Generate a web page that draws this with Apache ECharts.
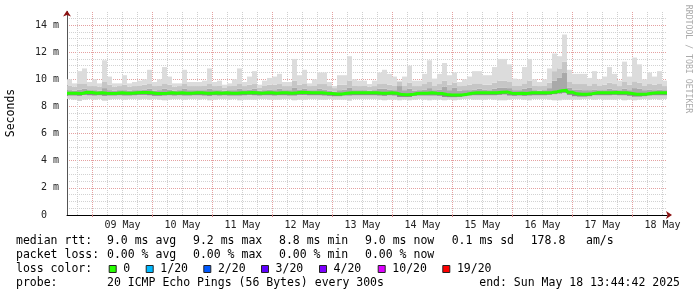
<!DOCTYPE html>
<html><head><meta charset="utf-8">
<script src="https://cdn.jsdelivr.net/npm/echarts@6/dist/echarts.min.js"></script>
<style>html,body{margin:0;padding:0;background:#fff}#c{width:697px;height:297px}</style>
</head><body><div id="c"></div>
<script>
// ---- time frame (hours since 08 May 00:00) ----
const startHour = 13.8;          // 08 May ~13:44
const endHour = 253.8;           // 18 May ~13:44
const bucketHours = 2;

// ---- axis tick labels ----
const dayLabels = ['09 May','10 May','11 May','12 May','13 May','14 May','15 May','16 May','17 May','18 May'];
const dayLabelHours = [36,60,84,108,132,156,180,204,228,252];
const midnightHours = [24,48,72,96,120,144,168,192,216,240];
const sixHourHours = [18,30,36,42,54,60,66,78,84,90,102,108,114,126,132,138,150,156,162,174,180,186,198,204,210,222,228,234,246,252];
const yMajorTicks = [0,2,4,6,8,10,12,14];

// ---- smoke data (ms), one value per 2-hour bucket ----
const pingMax = [10.0,9.7,10.6,10.8,9.8,10.0,9.7,11.4,10.2,9.7,
 9.7,10.3,9.7,9.8,9.9,10.0,10.7,9.8,10.0,10.9,
 10.2,9.7,9.7,10.7,9.8,9.8,9.8,9.9,10.8,9.8,
 9.9,9.6,9.7,10.0,10.8,9.8,10.2,10.6,9.6,9.9,
 10.1,10.2,10.4,9.8,9.8,11.5,10.3,10.7,9.7,10.0,
 10.5,10.5,9.8,9.5,10.3,10.3,11.7,10.0,9.9,9.9,
 9.65,9.9,10.5,10.7,10.4,10.2,9.9,10.2,11.0,9.9,
 9.9,10.4,11.4,10.05,10.4,11.2,10.3,10.5,9.8,10.0,
 10.2,10.6,10.6,10.3,10.3,10.9,11.5,11.5,11.1,10.05,
 10.0,10.9,11.5,10.0,9.8,10.0,10.8,11.9,11.7,13.3,
 10.7,10.4,10.4,10.4,10.1,10.6,10.0,10.2,10.9,10.4,
 9.9,11.3,10.2,11.6,11.1,10.0,10.5,10.2,10.6,9.9];
const pingP90 = [9.55,9.45,9.7,9.7,9.5,9.5,9.45,9.8,9.6,9.45,
 9.5,9.6,9.45,9.5,9.55,9.6,9.7,9.5,9.55,9.7,
 9.6,9.45,9.5,9.7,9.5,9.5,9.5,9.55,9.7,9.5,
 9.55,9.4,9.5,9.55,9.7,9.5,9.6,9.65,9.4,9.55,
 9.6,9.6,9.65,9.5,9.5,9.9,9.6,9.7,9.5,9.55,
 9.65,9.65,9.5,9.35,9.6,9.6,9.9,9.55,9.5,9.55,
 9.45,9.5,9.65,9.7,9.6,9.55,9.8,9.55,9.75,9.5,
 9.5,9.65,9.8,9.55,9.65,9.9,9.6,9.75,9.5,9.55,
 9.6,9.7,9.7,9.6,9.6,9.75,9.9,9.9,9.8,9.55,
 9.55,9.7,9.9,9.55,9.5,9.55,9.75,10.6,10.8,11.3,
 9.8,9.65,9.65,9.65,9.55,9.7,9.55,9.6,9.75,9.65,
 9.5,9.8,9.6,9.85,9.75,9.55,9.65,9.6,9.7,9.5];
const pingP75 = [9.2,9.15,9.25,9.3,9.2,9.2,9.15,9.35,9.2,9.15,
 9.2,9.2,9.15,9.2,9.2,9.25,9.3,9.15,9.2,9.3,
 9.25,9.15,9.2,9.3,9.2,9.2,9.2,9.2,9.3,9.2,
 9.2,9.15,9.2,9.2,9.3,9.2,9.25,9.3,9.15,9.2,
 9.25,9.2,9.3,9.2,9.2,9.4,9.25,9.3,9.2,9.2,
 9.3,9.25,9.15,9.1,9.2,9.25,9.4,9.2,9.2,9.2,
 9.15,9.2,9.3,9.3,9.25,9.2,9.5,9.2,9.3,9.15,
 9.2,9.25,9.35,9.2,9.25,9.45,9.2,9.4,9.15,9.2,
 9.2,9.25,9.3,9.25,9.2,9.3,9.4,9.4,9.35,9.2,
 9.2,9.3,9.4,9.2,9.15,9.2,9.35,9.9,10.1,10.5,
 9.4,9.25,9.25,9.2,9.2,9.25,9.2,9.2,9.3,9.25,
 9.2,9.3,9.2,9.35,9.3,9.2,9.25,9.2,9.25,9.2];
const pingMedian = [8.97,8.97,8.95,9.05,9.03,8.97,9.0,8.97,8.95,8.97,
 9.0,8.97,8.97,9.0,9.03,9.03,9.0,8.95,8.95,8.97,
 9.0,8.97,9.0,8.97,8.97,9.0,9.0,8.97,8.97,9.0,
 8.97,9.0,8.97,8.97,9.0,9.0,9.03,9.0,8.97,9.0,
 9.0,8.97,9.0,9.0,8.97,9.0,9.05,9.03,9.0,9.0,
 9.0,8.97,8.95,8.92,8.92,8.97,9.0,9.0,9.0,9.0,
 9.0,9.0,8.97,8.97,9.0,8.97,8.87,8.86,8.87,8.95,
 8.97,8.97,9.0,8.97,8.95,8.88,8.85,8.84,8.85,8.9,
 8.97,9.0,9.0,9.0,9.0,9.0,9.05,9.07,8.97,8.95,
 8.97,8.95,9.0,9.0,9.0,9.0,9.03,9.08,9.15,9.2,
 9.05,8.93,8.9,8.9,8.93,9.0,9.0,9.0,9.0,9.03,
 9.0,9.0,8.95,8.9,8.9,8.92,8.97,9.0,9.0,9.0];
const pingP25 = [8.8,8.8,8.78,8.85,8.82,8.8,8.82,8.78,8.8,8.8,
 8.82,8.8,8.8,8.82,8.85,8.85,8.82,8.78,8.78,8.8,
 8.82,8.8,8.82,8.8,8.8,8.82,8.82,8.8,8.78,8.82,
 8.8,8.82,8.8,8.8,8.8,8.82,8.85,8.82,8.8,8.82,
 8.82,8.8,8.82,8.82,8.8,8.8,8.85,8.85,8.82,8.82,
 8.82,8.8,8.78,8.75,8.75,8.8,8.8,8.82,8.82,8.82,
 8.82,8.82,8.8,8.78,8.82,8.8,8.7,8.7,8.7,8.78,
 8.8,8.8,8.8,8.8,8.78,8.7,8.68,8.68,8.7,8.75,
 8.8,8.82,8.82,8.82,8.82,8.82,8.85,8.88,8.8,8.78,
 8.8,8.78,8.8,8.82,8.82,8.82,8.85,8.9,8.95,9.0,
 8.85,8.75,8.72,8.72,8.75,8.82,8.82,8.82,8.82,8.85,
 8.82,8.82,8.78,8.72,8.72,8.75,8.8,8.82,8.82,8.82];
const pingMin = [8.55,8.5,8.4,8.5,8.55,8.5,8.55,8.42,8.5,8.55,
 8.55,8.5,8.55,8.55,8.5,8.55,8.5,8.55,8.5,8.45,
 8.5,8.55,8.55,8.5,8.55,8.55,8.5,8.55,8.45,8.5,
 8.55,8.55,8.5,8.55,8.45,8.5,8.5,8.5,8.55,8.55,
 8.5,8.5,8.5,8.55,8.55,8.45,8.5,8.5,8.55,8.55,
 8.5,8.5,8.55,8.5,8.5,8.5,8.42,8.55,8.55,8.55,
 8.55,8.55,8.5,8.45,8.5,8.5,8.45,8.5,8.45,8.5,
 8.55,8.5,8.45,8.5,8.5,8.45,8.5,8.45,8.5,8.55,
 8.55,8.5,8.5,8.5,8.55,8.5,8.45,8.45,8.5,8.55,
 8.55,8.5,8.45,8.55,8.55,8.55,8.5,8.45,8.45,8.5,
 8.5,8.5,8.5,8.55,8.55,8.5,8.55,8.5,8.5,8.5,
 8.55,8.45,8.5,8.45,8.5,8.55,8.5,8.55,8.5,8.55];

// ---- legend texts ----
const statRow1 = ['median rtt:','9.0 ms avg','9.2 ms max','8.8 ms min','9.0 ms now','0.1 ms sd','178.8','am/s'];
const statRow2 = ['packet loss:','0.00 % avg','0.00 % max','0.00 % min','0.00 % now'];
const lossTitle = 'loss color:';
const lossLabels = ['0','1/20','2/20','3/20','4/20','10/20','19/20'];
const lossColors = ['#26ff00','#00b8ff','#0059ff','#5e00ff','#7e00ff','#dd00ff','#ff0000'];
const probeRow = ['probe:','20 ICMP Echo Pings (56 Bytes) every 300s'];
const endText = 'end: Sun May 18 13:44:42 2025';
const yTitle = 'Seconds';
const watermark = 'RRDTOOL / TOBI OETIKER';

// ---- build ----
const MONO = 'DejaVu Sans Mono';
const smokeColors = ['#d4d4d4','#8a8a8a','#a9a9a9','#c6c6c6','#dcdcdc'];
const smokeData = pingMax.map((hi,i)=>[startHour+bucketHours*i, startHour+bucketHours*(i+1),
  pingMin[i], pingP25[i], pingMedian[i], pingP75[i], pingP90[i], hi]);
const medianPts = pingMedian.map((v,i)=>[startHour+bucketHours*i, v]);
medianPts.push([endHour, pingMedian[pingMedian.length-1]]);

const vGrid = [];
sixHourHours.forEach(h=>vGrid.push({xAxis:h, lineStyle:{color:'#cfcfcf', type:[1,1], width:1}}));
midnightHours.forEach(h=>vGrid.push({xAxis:h, lineStyle:{color:'#e4a0a0', type:[1,1], width:1}}));

const graphics = [];
const txt = (x,y,t,extra)=>graphics.push(Object.assign({type:'text', x:x, y:y,
  style:{text:t, font:'11.5px "'+MONO+'"', fill:'#000', verticalAlign:'middle', align:'left'}, silent:true}, extra||{}));
const row1X = [16,107,193,279,365,451.7,530.7,586];
statRow1.forEach((t,i)=>txt(row1X[i],241.5,t));
statRow2.forEach((t,i)=>txt(row1X[i],255.5,t));
txt(16,269.5,lossTitle);
const boxX = [108.7,145.7,203.3,261,319,377.7,442.3];
lossLabels.forEach((t,i)=>{
  graphics.push({type:'rect', shape:{x:boxX[i]+0.5, y:265.5, width:7, height:7},
    style:{fill:lossColors[i], stroke:'#222', lineWidth:1}, silent:true});
  txt(boxX[i]+14.6, 269.5, t);
});
txt(16,283,probeRow[0]);
txt(107,283,probeRow[1]);
txt(680,283,endText,{style:{text:endText, font:'11.5px "'+MONO+'"', fill:'#000', verticalAlign:'middle', align:'right'}});
graphics.push({type:'text', x:11, y:113, rotation:Math.PI/2, silent:true,
  style:{text:yTitle, font:'11.5px "'+MONO+'"', fill:'#000', align:'center', verticalAlign:'middle'}});
graphics.push({type:'text', x:688, y:59, rotation:-Math.PI/2, silent:true,
  style:{text:watermark, font:'8.2px "'+MONO+'"', fill:'#aaaaaa', align:'center', verticalAlign:'middle'}});

const chart = echarts.init(document.getElementById('c'), null, {renderer:'canvas'});
chart.setOption({
  animation:false,
  backgroundColor:'#ffffff',
  grid:{left:67, right:30, top:11.43, bottom:82, outerBoundsMode:'none'},
  xAxis:[{
    type:'value', min:startHour, max:endHour,
    axisLine:{show:true, onZero:false, lineStyle:{color:'#000', width:1}},
    axisTick:{show:true, customValues:midnightHours, length:2, lineStyle:{color:'#d08080'}},
    axisLabel:{customValues:dayLabelHours, margin:5, fontFamily:MONO, fontSize:10, color:'#222',
      formatter:v=>{const k=dayLabelHours.indexOf(Math.round(v)); return k>=0?dayLabels[k]:'';}},
    splitLine:{show:false}
  },{
    type:'value', min:startHour, max:endHour, position:'bottom',
    axisLine:{show:true, onZero:false, symbol:['none','arrow'], symbolSize:[6,6], symbolOffset:[0,5],
      lineStyle:{color:'#8b1010', width:0}},
    axisTick:{show:false}, axisLabel:{show:false}, splitLine:{show:false}
  }],
  yAxis:[{
    type:'value', min:0, max:15, interval:0.5,
    axisLine:{show:true, lineStyle:{color:'#555', width:1}},
    axisTick:{show:false}, axisLabel:{show:false},
    splitLine:{show:true, showMaxLine:false, lineStyle:{color:'#d2d2d2', type:[1,1], width:1}}
  },{
    type:'value', min:0, max:15, interval:2, position:'left',
    axisLine:{show:false}, axisTick:{show:false},
    axisLabel:{show:true, showMaxLabel:false, margin:8, fontFamily:MONO, fontSize:10, color:'#222',
      formatter:v=> v===0 ? '0  ' : (yMajorTicks.indexOf(v)>=0 ? v+' m' : '')},
    splitLine:{show:true, showMaxLine:false, lineStyle:{color:'#e4a0a0', type:[1,1], width:1}}
  },{
    type:'value', min:0, max:15, position:'left',
    axisLine:{show:true, symbol:['none','arrow'], symbolSize:[6,6], symbolOffset:[0,1],
      lineStyle:{color:'#8b1010', width:0}},
    axisTick:{show:false}, axisLabel:{show:false}, splitLine:{show:false}
  }],
  series:[{
    type:'line', xAxisIndex:0, yAxisIndex:0, data:[], silent:true, z:1,
    markLine:{silent:true, z:1, symbol:'none', animation:false, label:{show:false}, data:vGrid}
  },{
    type:'custom', xAxisIndex:0, yAxisIndex:0, z:2, silent:true,
    data:smokeData,
    encode:{x:[0,1], y:[2,3,4,5,6,7]},
    renderItem:function(params, api){
      const t0=api.value(0), t1=api.value(1);
      const vals=[2,3,4,5,6,7].map(d=>api.value(d));
      const children=[];
      for(let k=0;k<5;k++){
        const a=api.coord([t0, vals[k]]), b=api.coord([t1, vals[k+1]]);
        children.push({type:'rect', shape:{x:a[0], y:b[1], width:b[0]-a[0], height:a[1]-b[1]},
          style:{fill:smokeColors[k]}});
      }
      return {type:'group', children:children};
    }
  },{
    type:'line', xAxisIndex:0, yAxisIndex:0, z:3, silent:true,
    data:medianPts, step:'end', symbol:'none', showSymbol:false,
    lineStyle:{color:'#26ff00', width:3}
  }],
  graphic:graphics
});
</script></body></html>
